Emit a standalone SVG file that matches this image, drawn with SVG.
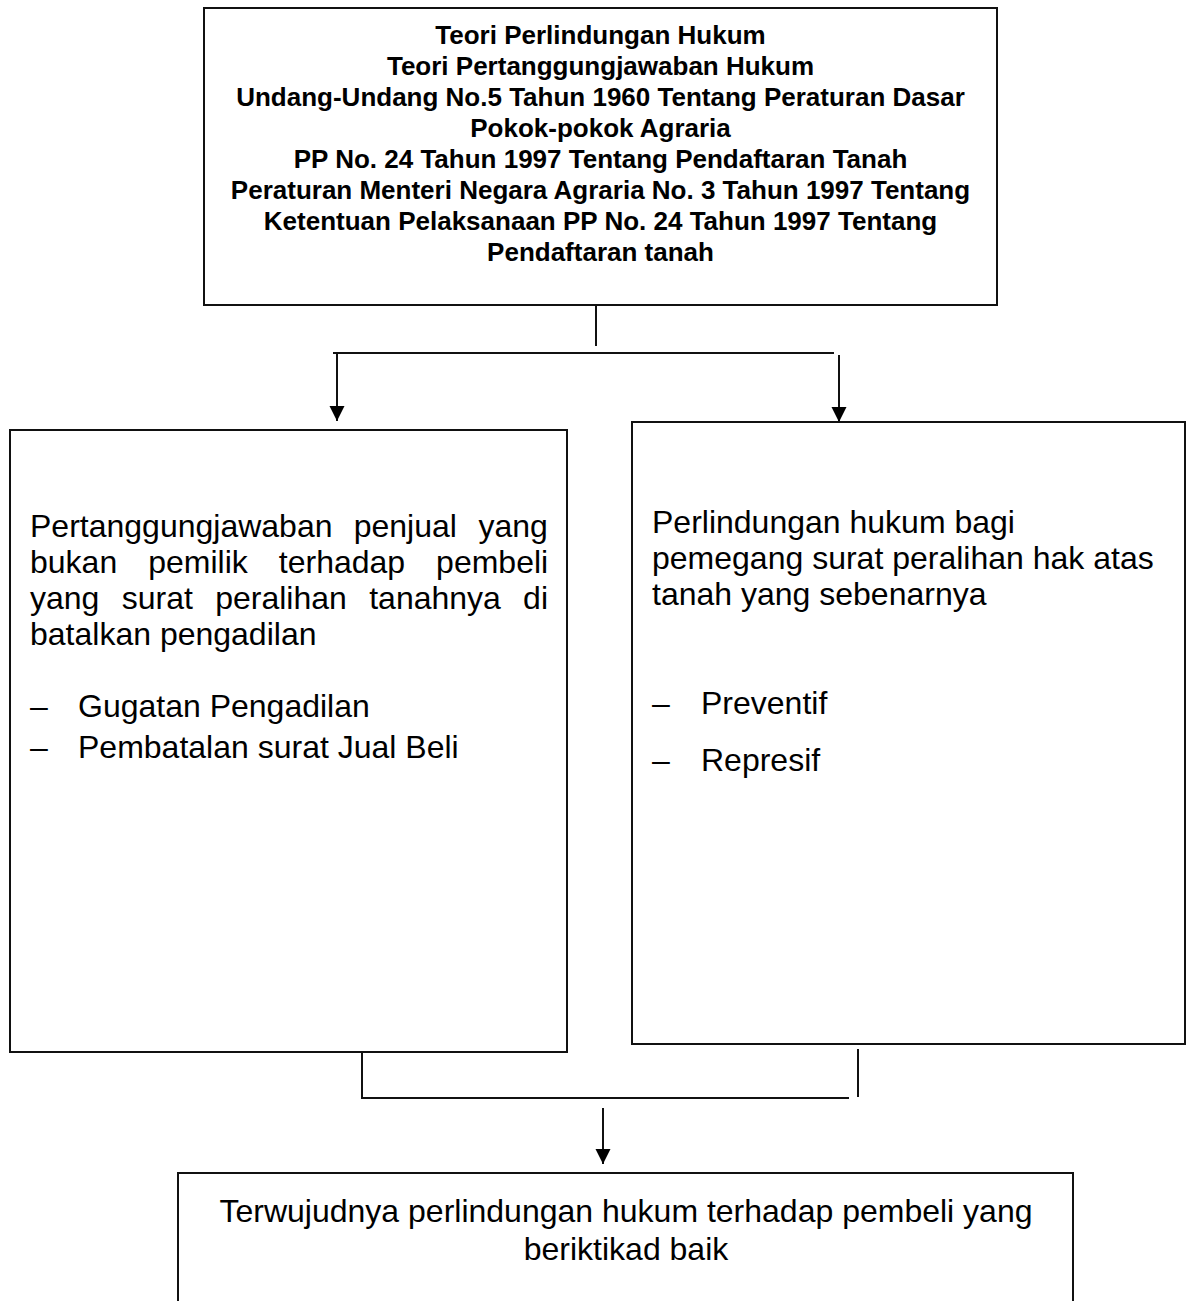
<svg xmlns="http://www.w3.org/2000/svg" width="1191" height="1301" viewBox="0 0 1191 1301">
<style>
.box{fill:#fff;stroke:#111;stroke-width:2}
.ln{fill:none;stroke:#111;stroke-width:2}
.hd{font-family:"Liberation Sans",Arial,sans-serif;font-weight:bold;font-size:26px;fill:#000;text-anchor:middle}
.tx{font-family:"Liberation Sans",Arial,sans-serif;font-size:32px;fill:#000}
.c{text-anchor:middle}
</style>
<defs>
<marker id="ah" markerUnits="userSpaceOnUse" markerWidth="16" markerHeight="16" refX="15" refY="7.5" orient="auto">
<path d="M0,0 L15,7.5 L0,15 z" fill="#000"/>
</marker>
</defs>
<rect width="1191" height="1301" fill="#fff"/>
<g id="connectors">
<line class="ln" x1="596" y1="306" x2="596" y2="346"/>
<line class="ln" x1="333" y1="353" x2="834" y2="353"/>
<line class="ln" x1="337" y1="353" x2="337" y2="421" marker-end="url(#ah)"/>
<line class="ln" x1="839" y1="355" x2="839" y2="422" marker-end="url(#ah)"/>
<polyline class="ln" points="362,1052 362,1098 849,1098"/>
<line class="ln" x1="858" y1="1049" x2="858" y2="1097"/>
<line class="ln" x1="603" y1="1108" x2="603" y2="1164" marker-end="url(#ah)"/>
</g>
<g id="node-top">
<rect class="box" x="204" y="8" width="793" height="297"/>
<text class="hd" x="600.5" y="44">Teori Perlindungan Hukum</text>
<text class="hd" x="600.5" y="75">Teori Pertanggungjawaban Hukum</text>
<text class="hd" x="600.5" y="106">Undang-Undang No.5 Tahun 1960 Tentang Peraturan Dasar</text>
<text class="hd" x="600.5" y="137">Pokok-pokok Agraria</text>
<text class="hd" x="600.5" y="168">PP No. 24 Tahun 1997 Tentang Pendaftaran Tanah</text>
<text class="hd" x="600.5" y="199">Peraturan Menteri Negara Agraria No. 3 Tahun 1997 Tentang</text>
<text class="hd" x="600.5" y="230">Ketentuan Pelaksanaan PP No. 24 Tahun 1997 Tentang</text>
<text class="hd" x="600.5" y="261">Pendaftaran tanah</text>
</g>
<g id="node-left">
<rect class="box" x="10" y="430" width="557" height="622"/>
<text class="tx" y="537"><tspan x="30">Pertanggungjawaban</tspan><tspan x="353.7">penjual</tspan><tspan x="478.4">yang</tspan></text>
<text class="tx" y="573"><tspan x="30">bukan</tspan><tspan x="148.2">pemilik</tspan><tspan x="278.8">terhadap</tspan><tspan x="436.1">pembeli</tspan></text>
<text class="tx" y="609"><tspan x="30">yang</tspan><tspan x="121.8">surat</tspan><tspan x="215.2">peralihan</tspan><tspan x="369.2">tanahnya</tspan><tspan x="523.1">di</tspan></text>
<text class="tx" x="30" y="645">batalkan pengadilan</text>
<text class="tx" x="30" y="717">–</text>
<text class="tx" x="78" y="717">Gugatan Pengadilan</text>
<text class="tx" x="30" y="758">–</text>
<text class="tx" x="78" y="758">Pembatalan surat Jual Beli</text>
</g>
<g id="node-right">
<rect class="box" x="632" y="422" width="553" height="622"/>
<text class="tx" x="652" y="533">Perlindungan hukum bagi</text>
<text class="tx" x="652" y="569">pemegang surat peralihan hak atas</text>
<text class="tx" x="652" y="605">tanah yang sebenarnya</text>
<text class="tx" x="652" y="714">–</text>
<text class="tx" x="701" y="714">Preventif</text>
<text class="tx" x="652" y="771">–</text>
<text class="tx" x="701" y="771">Represif</text>
</g>
<g id="node-bottom">
<rect class="box" x="178" y="1173" width="895" height="140"/>
<text class="tx c" x="626" y="1222">Terwujudnya perlindungan hukum terhadap pembeli yang</text>
<text class="tx c" x="626" y="1260">beriktikad baik</text>
</g>
</svg>
